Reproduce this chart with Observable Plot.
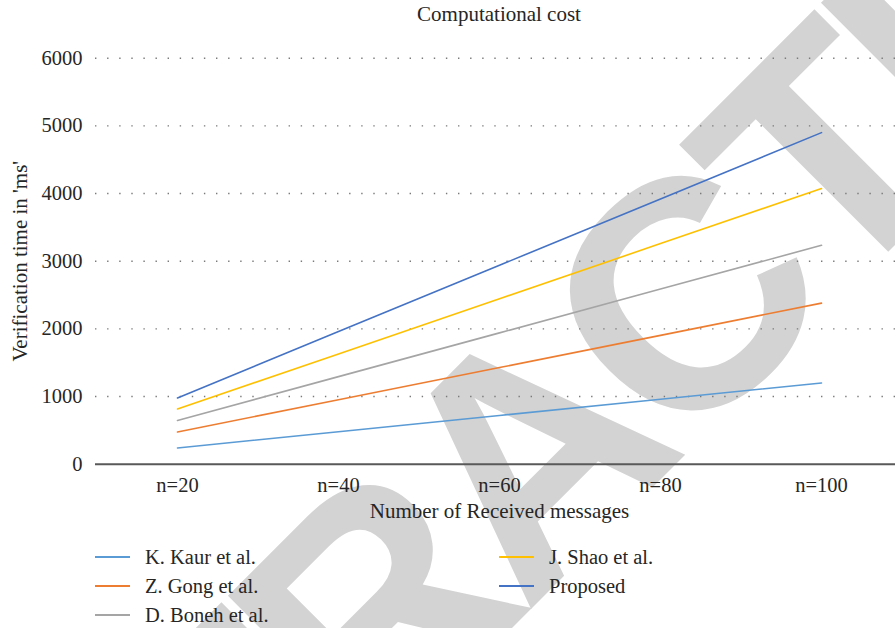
<!DOCTYPE html>
<html>
<head>
<meta charset="utf-8">
<script src="https://cdn.jsdelivr.net/npm/d3@7"></script>
<script src="https://cdn.jsdelivr.net/npm/@observablehq/plot@0.6"></script>
<style>
  html, body { margin: 0; padding: 0; background: #fff; }
  #wrap { position: relative; width: 895px; height: 628px; overflow: hidden; background: #fff;
          font-family: "Liberation Serif", serif; color: #262626; }
  #wm { position: absolute; left: 0; top: 0; z-index: 0; }
  #content { position: relative; z-index: 1; }
  #title { height: 28px; line-height: 28px; font-size: 21px; text-align: center; padding-left: 103px; box-sizing: border-box; width: 895px; }
  #legend { display: grid; grid-template-columns: 404px 300px; padding-left: 95px; padding-top: 14.5px; }
  .item { display: flex; align-items: center; height: 29px; line-height: 29px; font-size: 20.5px; }
  .swatch { width: 35px; height: 2px; margin-right: 15px; }
</style>
</head>
<body>
<div id="wrap">
  <svg id="wm" width="895" height="628"></svg>
  <div id="content">
    <div id="title"></div>
    <div id="chart"></div>
    <div id="legend"></div>
  </div>
</div>
<script>
const titleText = "Computational cost";
const xLabel = "Number of Received messages";
const yLabel = "Verification time in 'ms'";
const watermark = "RETRACTED";

const categories = ["n=20", "n=40", "n=60", "n=80", "n=100"];
const seriesNames = ["K. Kaur et al.", "Z. Gong et al.", "D. Boneh et al.", "J. Shao et al.", "Proposed"];
const seriesColors = ["#5B9BD5", "#ED7D31", "#A5A5A5", "#FFC000", "#4472C4"];
const kaur = [240, 480, 720, 960, 1200];
const gong = [476, 952, 1428, 1904, 2380];
const boneh = [647, 1294, 1941, 2588, 3235];
const shao = [815, 1630, 2445, 3260, 4075];
const proposed = [980, 1960, 2940, 3920, 4900];
const yTicks = [0, 1000, 2000, 3000, 4000, 5000, 6000];

const seriesValues = [kaur, gong, boneh, shao, proposed];
const table = [];
seriesNames.forEach((name, i) => {
  categories.forEach((c, j) => table.push({series: name, cat: c, value: seriesValues[i][j]}));
});

document.getElementById("title").textContent = titleText;

// watermark (behind the chart)
d3.select("#wm").append("text")
  .attr("x", -55).attr("y", 1195)
  .attr("transform", "rotate(-45 -55 1195)")
  .attr("font-family", "Liberation Sans, Arial, sans-serif")
  .attr("font-weight", 700)
  .attr("font-size", 325)
  .attr("letter-spacing", -16)
  .attr("fill", "#d3d3d3")
  .text(watermark);

const chart = Plot.plot({
  width: 895,
  height: 500,
  marginLeft: 95,
  marginRight: -8,
  marginTop: 29.7,
  marginBottom: 64.3,
  style: {background: "transparent", fontFamily: "Liberation Serif, serif", fontSize: "20.5px", color: "#262626"},
  x: {type: "point", domain: categories, padding: 0.5, label: null, tickSize: 0, tickPadding: 13},
  y: {domain: [0, 6000], ticks: yTicks, tickFormat: d => String(d), label: null, tickSize: 0, tickPadding: 13},
  color: {domain: seriesNames, range: seriesColors},
  marks: [
    Plot.ruleY(yTicks.filter(d => d > 0), {stroke: "#7a7a7a", strokeWidth: 1.4, strokeDasharray: "1.4,10.7"}),
    Plot.ruleY([0], {stroke: "#595959", strokeWidth: 2}),
    Plot.line(table, {x: "cat", y: "value", z: "series", stroke: "series", strokeWidth: 1.6}),
    Plot.text([yLabel], {text: d => d, frameAnchor: "left", textAnchor: "middle", lineAnchor: "middle", rotate: -90, dx: -75, fontSize: 21}),
    Plot.text([xLabel], {text: d => d, frameAnchor: "bottom", textAnchor: "middle", lineAnchor: "middle", dy: 47.5, fontSize: 21})
  ]
});
document.getElementById("chart").appendChild(chart);

// legend: column 1 = first three, column 2 = last two
const legend = d3.select("#legend");
const order = [0, 3, 1, 4, 2];
order.forEach(i => {
  const it = legend.append("div").attr("class", "item");
  it.append("span").attr("class", "swatch").style("background", seriesColors[i]);
  it.append("span").text(seriesNames[i]);
});
</script>
</body>
</html>
